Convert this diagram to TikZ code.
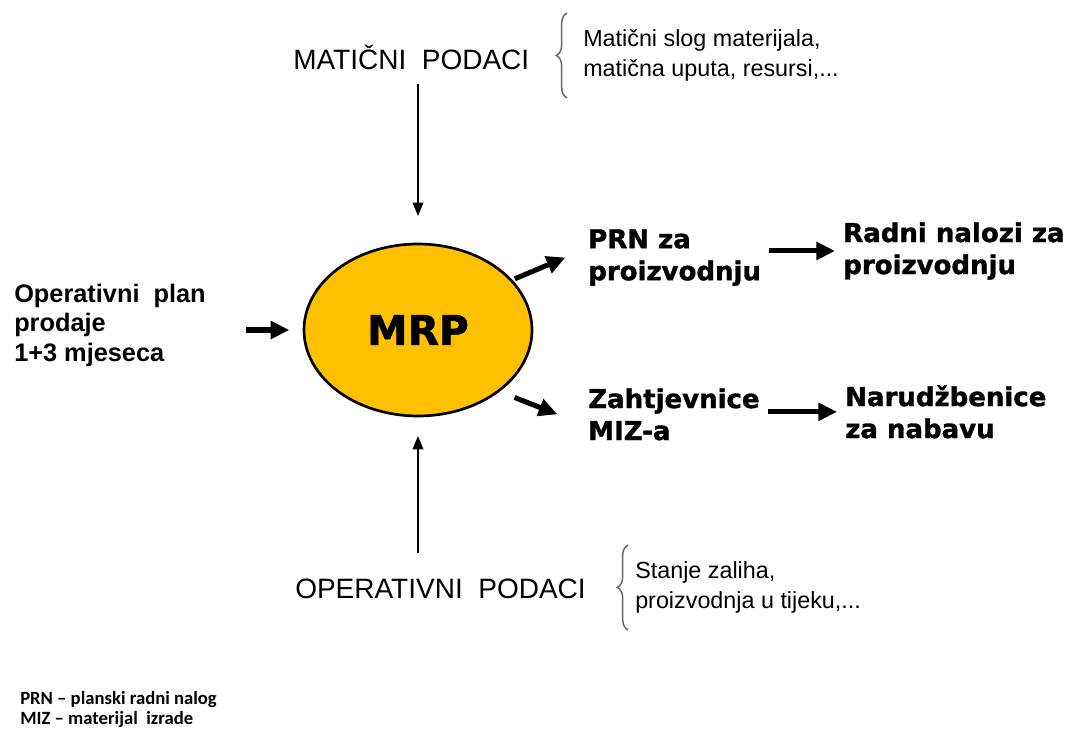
\documentclass[tikz,border=0pt]{standalone}
\usepackage{fontspec}
\setmainfont{Liberation Sans}
\newfontfamily\blackfont{DejaVu Sans}[BoldFeatures={FakeBold=1.3}]
\newfontfamily\legfont{Carlito}
\usetikzlibrary{shapes.geometric,arrows.meta,decorations.pathreplacing}
\definecolor{mrpgold}{HTML}{FFC000}

\begin{document}
\begin{tikzpicture}[x=0.75pt,y=-0.75pt,
    txt/.style={inner sep=0pt, align=left},
    podaci/.style={txt, font=\fontsize{21}{25}\selectfont},
    opis/.style={txt, font=\fontsize{17.5}{23}\selectfont},
    izlaz/.style={txt, font=\blackfont\bfseries\fontsize{19.5}{24}\selectfont},
    tanka/.style={line width=1.1pt, -{Triangle[length=10pt,width=8pt]}},
    debela/.style={line width=3.8pt, -{Triangle[length=14pt,width=13pt]}},
    zagrada/.style={decorate, decoration={brace, amplitude=8pt}, line width=1.1pt, draw=black!60}
    ]
    \useasboundingbox (0,0) rectangle (1071,731);
    \node[ellipse, draw, line width=2pt, fill=mrpgold, minimum width=171pt, minimum height=129pt,
      font=\blackfont\bfseries\fontsize{30.5}{36}\selectfont] (mrp) at (418,330) {MRP};
    \node[podaci, anchor=base west] (mat) at (293,70) {MATIČNI\ \ PODACI};
    \node[opis, anchor=north west] (matopis) at (583,29) {Matični slog materijala,\\matična uputa, resursi,...};
    \node[podaci, anchor=base west] (op) at (295,598) {OPERATIVNI\ \ PODACI};
    \node[opis, anchor=north west] (opopis) at (635,561) {Stanje zaliha,\\proizvodnja u tijeku,...};
    \node[txt, font=\bfseries\fontsize{19}{22}\selectfont, anchor=north west] (plan) at (14,284) {Operativni\ \ plan\\prodaje\\1+3 mjeseca};
    \node[izlaz, anchor=north west] (prn) at (588,229) {PRN za\\proizvodnju};
    \node[izlaz, anchor=north west] (radni) at (843,222) {Radni nalozi za\\proizvodnju};
    \node[izlaz, anchor=north west] (zah) at (588,388) {Zahtjevnice\\MIZ-a};
    \node[izlaz, anchor=north west] (nar) at (845,385) {Narudžbenice\\za nabavu};
    \node[txt, font=\legfont\bfseries\fontsize{14}{15}\selectfont, anchor=north west] (leg) at (20,691) {PRN – planski radni nalog\\MIZ – materijal\ \ izrade};

    \coordinate (mz1) at (567,98);
    \coordinate (mz2) at (567,13);
    \coordinate (oz1) at (628,630);
    \coordinate (oz2) at (628,545);
    \draw[zagrada] (mz1) -- (mz2);
    \draw[zagrada] (oz1) -- (oz2);

    \draw[tanka, shorten <=10pt, shorten >=20pt] (mat.south -| mrp.north) -- (mrp.north);
    \draw[tanka, shorten <=19pt, shorten >=14pt] (op.north -| mrp.south) -- (mrp.south);
    \draw[debela, shorten <=30pt, shorten >=10pt] (plan.east |- mrp.west) -- (mrp.west);
    \draw[debela, shorten <=2pt] (mrp.28) -- ([xshift=-17pt]prn.west);
    \draw[debela, shorten <=12pt] (mrp.-37) -- ([xshift=-23pt]zah.west);
    \draw[debela, shorten <=6pt, shorten >=6pt] (prn.east |- radni.west) -- (radni.west);
    \draw[debela, shorten <=6pt, shorten >=6pt] (zah.east |- nar.west) -- (nar.west);
  \end{tikzpicture}
\end{document}
